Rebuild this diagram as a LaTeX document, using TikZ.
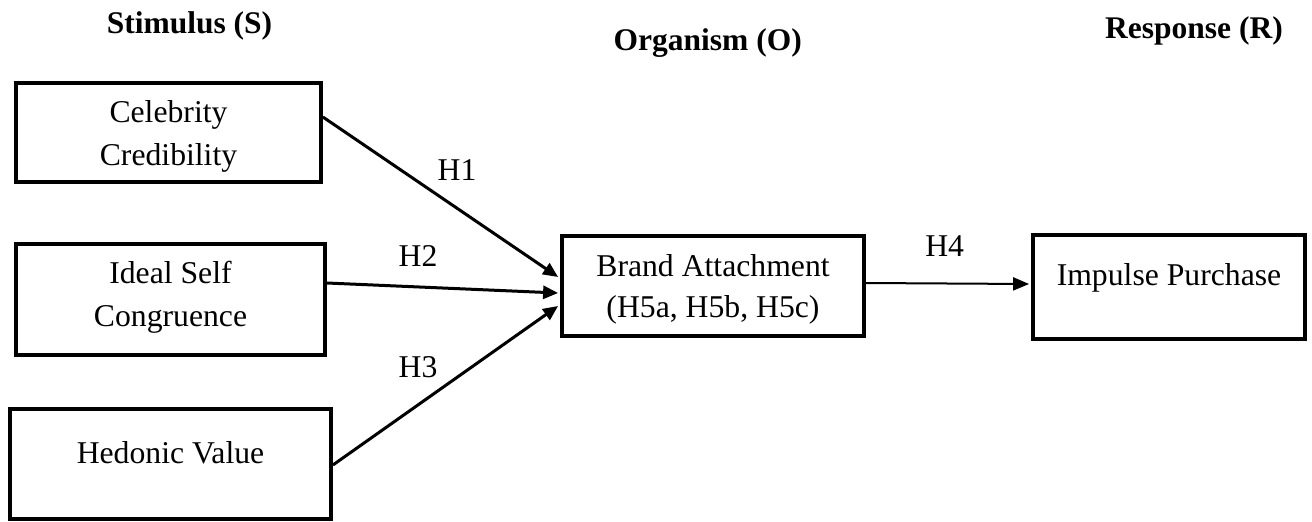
\documentclass[tikz,border=0pt]{standalone}
\usepackage{fontspec}
\setmainfont{Liberation Serif}
\usetikzlibrary{arrows.meta,calc}
\begin{document}
\begin{tikzpicture}[x=1pt,y=-1pt,
  every node/.style={font=\fontsize{31.7}{38}\selectfont},
  box/.style={draw, line width=3.8pt, rectangle, inner sep=0pt},
  txt/.style={anchor=base, inner sep=0pt},
  hdr/.style={anchor=base, inner sep=0pt, font=\fontsize{31.5}{38}\selectfont\bfseries},
  link/.style={line width=3pt, -{Triangle[length=15pt,width=13pt]}},
  thinlink/.style={line width=2pt, -{Triangle[length=16pt,width=13pt]}}]
\useasboundingbox (0,0) rectangle (1312,522);

% headers
\node[hdr] (hs) at (189.5,33) {Stimulus (S)};
\node[hdr] (ho) at (707.7,50) {Organism (O)};
\node[hdr] (hr) at (1194,38) {Response (R)};

% boxes
\node[box, minimum width=305pt, minimum height=99pt] (b1) at (168.5,132.5) {};
\node[box, minimum width=309pt, minimum height=111pt] (b2) at (170.5,299.5) {};
\node[box, minimum width=321pt, minimum height=110pt] (b3) at (170.5,464) {};
\node[box, minimum width=302pt, minimum height=100pt] (b4) at (713,286) {};
\node[box, minimum width=272pt, minimum height=104pt] (b5) at (1169,287) {};

% texts
\node[txt] (t1a) at (168.5,122.7) {Celebrity};
\node[txt] (t1b) at (168.5,165.7) {Credibility};
\node[txt] (t2a) at (170.5,283) {Ideal Self};
\node[txt] (t2b) at (170.5,326) {Congruence};
\node[txt] (t3) at (170.5,463) {Hedonic Value};
\node[txt] (t4a) at (713,276) {Brand Attachment};
\node[txt] (t4b) at (713,317.5) {(H5a, H5b, H5c)};
\node[txt] (t5) at (1169,285) {Impulse Purchase};

% connectors
\draw[link] ($(b1.east)+(0,-15.5)$) -- ($(b4.west)+(-2,-9)$);
\draw[link] ($(b2.east)+(0,-16.5)$) -- ($(b4.west)+(-2,7)$);
\draw[link] ($(b3.east)+(0,1)$) -- ($(b4.west)+(-2,20)$);
\draw[thinlink] ($(b4.east)+(0,-3)$) -- ($(b5.west)+(-2,-3)$);

% connector labels
\node[txt] (l1) at (457,180) {H1};
\node[txt] (l2) at (418,266) {H2};
\node[txt] (l3) at (418,377) {H3};
\node[txt] (l4) at (944.7,256.7) {H4};
\end{tikzpicture}
\end{document}
